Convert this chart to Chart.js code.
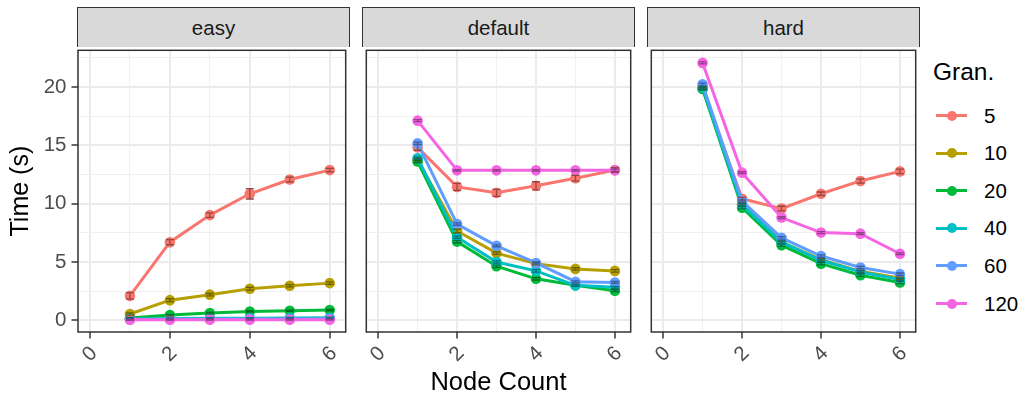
<!DOCTYPE html>
<html>
<head>
<meta charset="utf-8">
<script src="https://cdn.jsdelivr.net/npm/chart.js@4.4.1/dist/chart.umd.min.js"></script>
<style>
  body { margin: 0; background: #fff; font-family: "Liberation Sans", Arial, sans-serif; }
  #wrap { position: relative; width: 1021px; height: 398px; overflow: hidden; }
  .panel { position: absolute; }
  .strip {
    position: absolute; top: 7px; height: 40px; box-sizing: border-box;
    background: #d9d9d9; border: 1.5px solid #333; border-bottom: none;
    color: #1a1a1a; font-size: 20.5px;
    display: flex; align-items: center; justify-content: center;
  }
  #legend { position: absolute; left: 933px; top: 0; width: 88px; height: 398px; }
  #legend .title { position: absolute; left: 0; top: 57px; font-size: 24.5px; color: #000; line-height: 30px; }
  #legend .item { position: absolute; left: 0; height: 24px; width: 88px; }
  #legend .key { position: absolute; left: 3px; top: 10.5px; width: 31px; height: 3px; }
  #legend .dot { position: absolute; left: 11px; top: -3.5px; width: 10px; height: 10px; border-radius: 50%; }
  #legend .lab { position: absolute; left: 51px; top: 0; font-size: 20.5px; line-height: 24px; color: #000; }
</style>
</head>
<body>
<div id="wrap"></div>
<script>
const nodeCounts = [1, 2, 3, 4, 5, 6];
const granularities = ['5', '10', '20', '40', '60', '120'];
const granColors = ['#F8766D', '#B79F00', '#00BA38', '#00BFC4', '#619CFF', '#F564E3'];
const facetNames = ['easy', 'default', 'hard'];

// one row per granularity (5, 10, 20, 40, 60, 120), one column per node count
const easyTimes = [
    [2.1, 6.7, 9.02, 10.85, 12.07, 12.88],
    [0.54, 1.73, 2.2, 2.71, 2.97, 3.19],
    [0.2, 0.45, 0.62, 0.76, 0.82, 0.88],
    [0.12, 0.15, 0.17, 0.18, 0.2, 0.22],
    [0.08, 0.1, 0.11, 0.12, 0.12, 0.13],
    [0.05, 0.05, 0.05, 0.05, 0.05, 0.05],
];
const defaultTimes = [
    [14.83, 11.44, 10.93, 11.53, 12.18, 12.88],
    [13.76, 7.66, 5.76, 4.86, 4.41, 4.24],
    [13.62, 6.75, 4.64, 3.56, 3.0, 2.54],
    [13.9, 7.12, 5.0, 4.24, 3.0, 2.83],
    [15.17, 8.25, 6.39, 4.92, 3.31, 3.25],
    [17.12, 12.86, 12.86, 12.86, 12.86, 12.86],
];
const hardTimes = [
    [19.9, 10.42, 9.58, 10.85, 11.95, 12.77],
    [19.9, 10.0, 6.7, 5.2, 4.2, 3.6],
    [19.83, 9.66, 6.44, 4.86, 3.87, 3.25],
    [19.95, 9.9, 6.7, 5.15, 4.15, 3.5],
    [20.23, 10.23, 7.07, 5.51, 4.53, 3.96],
    [22.07, 12.66, 8.81, 7.52, 7.43, 5.71],
];

// half-width of the error bars
const easyErrors = [
    [0.28, 0.22, 0.2, 0.45, 0.2, 0.15],
    [0.1, 0.12, 0.1, 0.12, 0.1, 0.1],
    [0.06, 0.06, 0.06, 0.06, 0.06, 0.06],
    [0.05, 0.05, 0.05, 0.05, 0.05, 0.05],
    [0.05, 0.05, 0.05, 0.05, 0.05, 0.05],
    [0.04, 0.04, 0.04, 0.04, 0.04, 0.04],
];
const defaultErrors = [
    [0.25, 0.3, 0.3, 0.35, 0.25, 0.2],
    [0.1, 0.15, 0.1, 0.1, 0.1, 0.1],
    [0.1, 0.1, 0.1, 0.1, 0.08, 0.08],
    [0.1, 0.1, 0.1, 0.1, 0.08, 0.08],
    [0.1, 0.1, 0.08, 0.08, 0.08, 0.08],
    [0.08, 0.06, 0.06, 0.06, 0.06, 0.1],
];
const hardErrors = [
    [0.1, 0.12, 0.2, 0.15, 0.18, 0.2],
    [0.1, 0.1, 0.1, 0.1, 0.1, 0.1],
    [0.1, 0.1, 0.1, 0.1, 0.1, 0.1],
    [0.1, 0.1, 0.1, 0.1, 0.1, 0.1],
    [0.1, 0.1, 0.1, 0.1, 0.1, 0.1],
    [0.08, 0.08, 0.08, 0.08, 0.08, 0.08],
];

const yTickValues = [0, 5, 10, 15, 20];
const yMinorValues = [2.5, 7.5, 12.5, 17.5, 22.5];
const xTickValues = [0, 2, 4, 6];
const xMinorValues = [1, 3, 5];

const facetTimes = [easyTimes, defaultTimes, hardTimes];
const facetErrors = [easyErrors, defaultErrors, hardErrors];

// layout of the facet panels in page pixels
const panelLefts = [78, 363, 648];
const PANEL_W = 271;
const PANEL_TOP = 47;
const PANEL_BOTTOM = 332;
const PAGE_H = 398;
const FONT = '"Liberation Sans", Arial, sans-serif';

const darken = (hex, f) => {
    const n = parseInt(hex.slice(1), 16);
    const r = Math.round(((n >> 16) & 255) * f);
    const g = Math.round(((n >> 8) & 255) * f);
    const b = Math.round((n & 255) * f);
    return `rgb(${r},${g},${b})`;
};

const errorBars = {
    id: 'errorBars',
    afterDatasetsDraw(chart, args, opts) {
        const { ctx } = chart;
        const x = chart.scales.x;
        const y = chart.scales.y;
        ctx.save();
        ctx.lineWidth = 1.3;
        chart.data.datasets.forEach((ds, i) => {
            ctx.strokeStyle = darken(granColors[i], 0.6);
            ds.data.forEach((p, j) => {
                const e = opts.errors[i][j];
                const px = x.getPixelForValue(p.x);
                const top = y.getPixelForValue(p.y + e);
                const bot = y.getPixelForValue(p.y - e);
                ctx.beginPath();
                ctx.moveTo(px, top);
                ctx.lineTo(px, bot);
                ctx.moveTo(px - 4, top);
                ctx.lineTo(px + 4, top);
                ctx.moveTo(px - 4, bot);
                ctx.lineTo(px + 4, bot);
                ctx.stroke();
            });
        });
        ctx.restore();
    },
};

const panelBorder = {
    id: 'panelBorder',
    afterDraw(chart) {
        const { ctx, chartArea: a } = chart;
        ctx.save();
        ctx.strokeStyle = '#333333';
        ctx.lineWidth = 1.5;
        ctx.strokeRect(a.left, a.top, a.right - a.left, a.bottom - a.top);
        ctx.restore();
    },
};

// keep the plot area fixed: no extra room for overhanging tick labels
const noPadding = (s) => {
    s.paddingLeft = 0;
    s.paddingRight = 0;
    s.paddingTop = 0;
    s.paddingBottom = 0;
};

const wrap = document.getElementById('wrap');

facetNames.forEach((name, f) => {
    const left = panelLefts[f];
    const canvasLeft = f === 0 ? 0 : left - 2;
    const canvasTop = PANEL_TOP - 2;
    const w = left + PANEL_W + 2 - canvasLeft;
    const h = PAGE_H - canvasTop;
    const yAxisW = left - canvasLeft;
    const xAxisH = h - (PANEL_BOTTOM - canvasTop);

    const strip = document.createElement('div');
    strip.className = 'strip';
    strip.style.left = (left - 0.75) + 'px';
    strip.style.width = (PANEL_W + 1.5) + 'px';
    strip.textContent = name;
    wrap.appendChild(strip);

    const box = document.createElement('div');
    box.className = 'panel';
    box.style.left = canvasLeft + 'px';
    box.style.top = canvasTop + 'px';
    box.style.width = w + 'px';
    box.style.height = h + 'px';
    const canvas = document.createElement('canvas');
    box.appendChild(canvas);
    wrap.appendChild(box);

    const times = facetTimes[f];
    const datasets = granularities.map((g, i) => ({
        label: g,
        data: nodeCounts.map((n, j) => ({ x: n, y: times[i][j] })),
        borderColor: granColors[i],
        backgroundColor: granColors[i],
        borderWidth: 3,
        pointRadius: 5.3,
        pointBorderWidth: 0,
        tension: 0,
        order: granularities.length - i,
    }));

    const isMajorX = (v) => xTickValues.includes(v);
    const isMajorY = (v) => yTickValues.includes(v);

    new Chart(canvas, {
        type: 'line',
        data: { datasets },
        plugins: [errorBars, panelBorder],
        options: {
            responsive: true,
            maintainAspectRatio: false,
            animation: false,
            devicePixelRatio: 1,
            layout: { padding: { top: 2, right: 2, left: 0, bottom: 0 } },
            plugins: {
                legend: { display: false },
                tooltip: { enabled: false },
                errorBars: { errors: facetErrors[f] },
            },
            scales: {
                x: {
                    type: 'linear',
                    min: -0.3,
                    max: 6.4,
                    afterBuildTicks: (s) => {
                        s.ticks = [...xTickValues, ...xMinorValues].sort((a, b) => a - b).map((v) => ({ value: v }));
                    },
                    afterFit: (s) => { s.height = xAxisH; noPadding(s); },
                    border: { display: false },
                    grid: {
                        color: (c) => (isMajorX(c.tick.value) ? '#ebebeb' : '#f0f0f0'),
                        lineWidth: (c) => (isMajorX(c.tick.value) ? 2 : 1),
                        tickColor: (c) => (isMajorX(c.tick.value) ? '#333333' : 'rgba(0,0,0,0)'),
                        tickWidth: 1.5,
                        tickLength: 6.5,
                    },
                    ticks: {
                        autoSkip: false,
                        minRotation: 45,
                        maxRotation: 45,
                        padding: 3,
                        labelOffset: 4,
                        color: '#4d4d4d',
                        font: { family: FONT, size: 20.5 },
                        callback: (v) => (isMajorX(v) ? String(v) : ''),
                    },
                    title: {
                        display: f === 1,
                        text: 'Node Count',
                        color: '#000',
                        font: { family: FONT, size: 25.5 },
                        padding: { top: 0, bottom: 0 },
                    },
                },
                y: {
                    type: 'linear',
                    min: -1,
                    max: 23.15,
                    afterBuildTicks: (s) => {
                        s.ticks = [...yTickValues, ...yMinorValues].sort((a, b) => a - b).map((v) => ({ value: v }));
                    },
                    afterFit: (s) => { s.width = yAxisW; noPadding(s); },
                    border: { display: false },
                    grid: {
                        color: (c) => (isMajorY(c.tick.value) ? '#ebebeb' : '#f0f0f0'),
                        lineWidth: (c) => (isMajorY(c.tick.value) ? 2 : 1),
                        tickColor: (c) => (isMajorY(c.tick.value) ? '#333333' : 'rgba(0,0,0,0)'),
                        tickWidth: 1.5,
                        tickLength: 6.5,
                        drawTicks: f === 0,
                    },
                    ticks: {
                        display: f === 0,
                        padding: 5,
                        color: '#4d4d4d',
                        font: { family: FONT, size: 20.5 },
                        callback: (v) => (isMajorY(v) ? String(v) : ''),
                    },
                    title: {
                        display: f === 0,
                        text: 'Time (s)',
                        color: '#000',
                        font: { family: FONT, size: 25 },
                        padding: { top: 6, bottom: 0 },
                    },
                },
            },
        },
    });
});

// legend
const legend = document.createElement('div');
legend.id = 'legend';
legend.innerHTML = '<div class="title">Gran.</div>';
granularities.forEach((g, i) => {
    const item = document.createElement('div');
    item.className = 'item';
    item.style.top = (103.5 + i * 37.6) + 'px';
    item.innerHTML = `<div class="key" style="background:${granColors[i]}"><div class="dot" style="background:${granColors[i]}"></div></div><div class="lab">${g}</div>`;
    legend.appendChild(item);
});
wrap.appendChild(legend);
</script>
</body>
</html>
